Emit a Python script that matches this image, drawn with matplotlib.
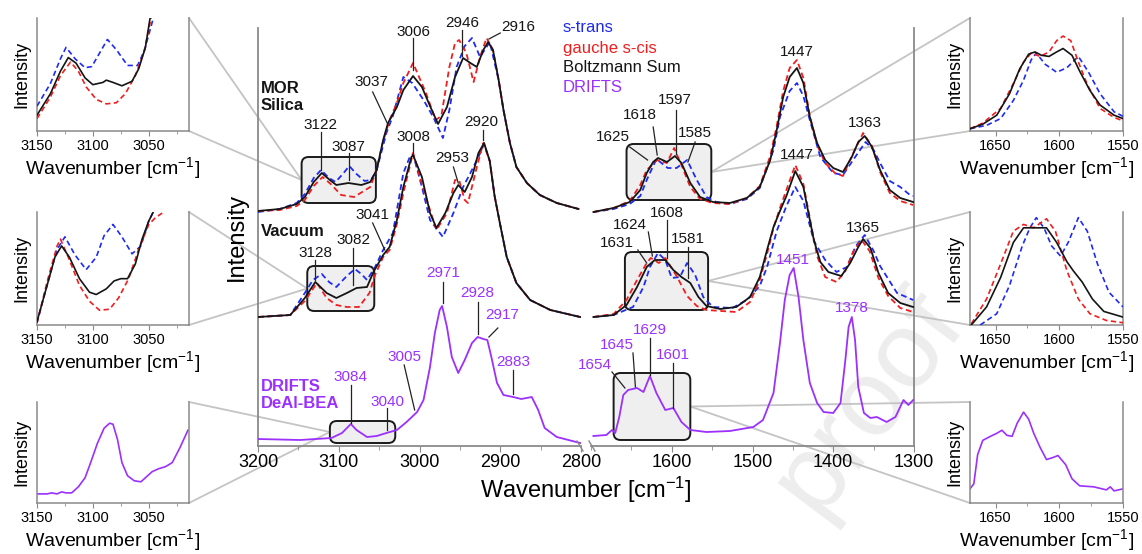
import matplotlib
matplotlib.use('Agg')
import matplotlib.pyplot as plt
from matplotlib.patches import FancyBboxPatch
from matplotlib.lines import Line2D
from matplotlib.transforms import IdentityTransform
from matplotlib.ticker import MultipleLocator

plt.rcParams['font.family'] = ['Liberation Sans', 'DejaVu Sans']
plt.rcParams['mathtext.fontset'] = 'custom'
plt.rcParams['mathtext.rm'] = 'Liberation Sans'
plt.rcParams['mathtext.it'] = 'Liberation Sans:italic'
plt.rcParams['mathtext.bf'] = 'Liberation Sans:bold'

# ---------------- DATA (stacked intensities, arbitrary units) ----------------
# C-H stretching region (3200-2800 cm-1)
mor_bz_hi_wn = [3200, 3173, 3152, 3142, 3131, 3121, 3111, 3103, 3088, 3072, 3061, 3053, 3045, 3039, 3028, 3020, 3008, 2997, 2987, 2977, 2966, 2956, 2946, 2937, 2929, 2921, 2915, 2909, 2902, 2896, 2888, 2880, 2867, 2851, 2830, 2803]
mor_bz_hi = [235, 237, 242, 249, 264, 273, 266, 261, 263, 261, 264, 276, 306, 323, 339, 356, 370, 359, 340, 322, 339, 369, 388, 383, 379, 396, 404, 396, 366, 336, 303, 279, 263, 251, 243, 237]
mor_tr_hi_wn = [3200, 3173, 3152, 3142, 3131, 3122, 3112, 3104, 3095, 3087, 3078, 3068, 3060, 3053, 3041, 3033, 3028, 3020, 3009, 2995, 2983, 2971, 2963, 2954, 2944, 2935, 2925, 2913, 2902, 2896, 2888, 2880, 2867, 2851, 2830, 2803]
mor_tr_hi = [234, 237, 243, 252, 268, 276, 268, 264, 272, 280, 272, 265, 266, 276, 313, 330, 345, 369, 363, 346, 329, 308, 336, 379, 400, 408, 389, 404, 366, 336, 303, 279, 263, 251, 243, 237]
mor_cis_hi_wn = [3200, 3173, 3152, 3142, 3131, 3120, 3110, 3097, 3081, 3061, 3054, 3045, 3037, 3028, 3020, 3008, 2992, 2980, 2973, 2963, 2956, 2951, 2942, 2933, 2925, 2917, 2909, 2902, 2896, 2888, 2880, 2867, 2851, 2830, 2803]
mor_cis_hi = [235, 236, 240, 246, 260, 269, 262, 251, 249, 259, 274, 305, 326, 343, 363, 383, 353, 326, 330, 379, 403, 406, 393, 364, 389, 408, 396, 366, 336, 303, 279, 263, 251, 243, 237]

vac_bz_hi_wn = [3200, 3160, 3142, 3129, 3115, 3103, 3090, 3078, 3065, 3057, 3045, 3037, 3028, 3020, 3010, 3008, 2997, 2987, 2979, 2968, 2958, 2952, 2944, 2935, 2927, 2920, 2913, 2907, 2900, 2892, 2880, 2863, 2838, 2801]
vac_bz_hi = [129, 131, 148, 164, 153, 148, 153, 158, 159, 174, 191, 199, 226, 259, 289, 291, 269, 233, 218, 233, 253, 261, 254, 269, 293, 303, 285, 250, 221, 189, 163, 146, 136, 129]
vac_tr_hi_wn = [3200, 3160, 3142, 3132, 3121, 3112, 3103, 3090, 3080, 3072, 3065, 3055, 3045, 3033, 3028, 3020, 3012, 3008, 2997, 2987, 2971, 2958, 2946, 2937, 2927, 2920, 2913, 2907, 2900, 2892, 2880, 2863, 2838, 2801]
vac_tr_hi = [129, 131, 153, 166, 172, 164, 159, 170, 177, 172, 166, 179, 196, 213, 236, 273, 289, 292, 259, 226, 209, 233, 259, 273, 289, 302, 285, 250, 221, 189, 163, 146, 136, 129]
vac_cis_hi_wn = [3200, 3160, 3142, 3127, 3115, 3103, 3090, 3075, 3062, 3055, 3045, 3037, 3028, 3020, 3008, 2995, 2979, 2966, 2956, 2951, 2944, 2940, 2929, 2921, 2913, 2907, 2900, 2892, 2880, 2863, 2838, 2801]
vac_cis_hi = [129, 131, 145, 163, 148, 141, 139, 139, 153, 171, 189, 196, 222, 253, 293, 256, 216, 233, 266, 266, 246, 243, 279, 303, 285, 250, 221, 189, 163, 146, 136, 129]

drifts_hi_wn = [3200, 3148, 3109, 3096, 3085, 3078, 3065, 3053, 3041, 3028, 3016, 3003, 2995, 2987, 2981, 2975, 2972, 2966, 2960, 2952, 2944, 2935, 2928, 2921, 2916, 2911, 2904, 2896, 2884, 2874, 2861, 2853, 2845, 2830, 2801]
drifts_hi = [7, 6, 8, 13, 22, 16, 9, 10, 13, 16, 24, 34, 46, 79, 113, 136, 140, 119, 89, 73, 86, 103, 109, 107, 106, 89, 63, 51, 49, 47, 49, 36, 18, 9, 3]

# fingerprint region (1700-1300 cm-1)
mor_bz_lo_wn = [1697, 1672, 1652, 1639, 1631, 1623, 1617, 1606, 1596, 1588, 1577, 1565, 1549, 1528, 1507, 1491, 1478, 1470, 1462, 1454, 1445, 1437, 1429, 1420, 1410, 1400, 1388, 1377, 1369, 1361, 1352, 1342, 1330, 1317, 1301]
mor_bz_lo = [234, 238, 244, 256, 273, 284, 288, 284, 290, 283, 263, 249, 244, 243, 248, 259, 286, 316, 349, 369, 378, 363, 329, 303, 286, 278, 274, 289, 304, 310, 299, 276, 256, 248, 244]
mor_tr_lo_wn = [1697, 1672, 1652, 1639, 1631, 1619, 1605, 1594, 1581, 1569, 1557, 1545, 1528, 1507, 1491, 1474, 1466, 1454, 1445, 1437, 1429, 1416, 1400, 1388, 1372, 1360, 1350, 1342, 1330, 1317, 1305, 1301]
mor_tr_lo = [234, 237, 242, 250, 266, 287, 278, 278, 286, 266, 249, 244, 242, 247, 258, 296, 329, 355, 363, 350, 326, 289, 273, 271, 290, 304, 296, 283, 265, 259, 251, 250]
mor_cis_lo_wn = [1697, 1672, 1652, 1639, 1631, 1618, 1606, 1597, 1588, 1577, 1565, 1549, 1528, 1507, 1491, 1478, 1470, 1462, 1454, 1445, 1437, 1429, 1420, 1410, 1398, 1388, 1377, 1363, 1352, 1342, 1330, 1317, 1301]
mor_cis_lo = [234, 238, 245, 261, 276, 286, 283, 298, 281, 259, 247, 243, 242, 248, 260, 290, 320, 355, 378, 386, 368, 330, 301, 283, 273, 270, 290, 313, 300, 274, 253, 245, 241]

vac_bz_lo_wn = [1697, 1672, 1656, 1643, 1631, 1621, 1608, 1598, 1588, 1577, 1567, 1557, 1540, 1520, 1503, 1491, 1482, 1474, 1466, 1458, 1447, 1437, 1429, 1424, 1416, 1406, 1390, 1379, 1369, 1363, 1354, 1344, 1332, 1317, 1301]
vac_bz_lo = [129, 131, 141, 159, 179, 186, 186, 176, 169, 163, 149, 140, 137, 139, 149, 169, 196, 219, 235, 250, 275, 259, 226, 206, 184, 174, 170, 183, 199, 207, 198, 173, 153, 143, 139]
vac_tr_lo_wn = [1697, 1672, 1648, 1635, 1627, 1617, 1608, 1600, 1590, 1581, 1571, 1561, 1549, 1525, 1507, 1491, 1482, 1470, 1458, 1447, 1437, 1424, 1410, 1396, 1383, 1372, 1361, 1350, 1342, 1321, 1301]
vac_tr_lo = [129, 131, 139, 159, 179, 193, 186, 168, 169, 183, 171, 149, 139, 138, 146, 160, 179, 215, 240, 259, 245, 205, 186, 174, 179, 200, 211, 195, 180, 153, 146]
vac_cis_lo_wn = [1697, 1672, 1656, 1643, 1631, 1626, 1616, 1608, 1594, 1581, 1569, 1557, 1520, 1503, 1491, 1482, 1474, 1466, 1458, 1447, 1437, 1429, 1420, 1410, 1396, 1385, 1375, 1365, 1355, 1344, 1332, 1317, 1301]
vac_cis_lo = [129, 132, 146, 166, 183, 188, 183, 188, 170, 150, 140, 136, 134, 144, 166, 192, 218, 238, 256, 281, 262, 228, 190, 169, 164, 175, 195, 206, 195, 168, 150, 138, 134]

drifts_lo_wn = [1697, 1681, 1674, 1670, 1665, 1660, 1654, 1643, 1635, 1627, 1619, 1608, 1598, 1588, 1577, 1557, 1528, 1499, 1487, 1474, 1466, 1460, 1454, 1449, 1443, 1437, 1429, 1420, 1412, 1400, 1391, 1385, 1381, 1377, 1373, 1369, 1362, 1354, 1346, 1334, 1323, 1313, 1307, 1301]
drifts_lo = [10, 11, 16, 13, 29, 51, 56, 58, 54, 70, 53, 36, 38, 24, 16, 14, 15, 19, 26, 53, 103, 146, 171, 178, 149, 106, 63, 43, 34, 33, 43, 86, 119, 129, 106, 59, 33, 28, 29, 24, 29, 46, 41, 46]

# zoomed insets (normalised intensity 0-100 inside each inset)
in1_bz_wn = [3150, 3138, 3129, 3122, 3115, 3107, 3100, 3091, 3088, 3082, 3074, 3065, 3059, 3053, 3049, 3047]
in1_bz = [14, 33, 53, 65, 60, 47, 41, 43, 45, 43, 40, 44, 55, 74, 99, 104]
in1_tr_wn = [3150, 3138, 3129, 3124, 3116, 3107, 3101, 3094, 3087, 3079, 3069, 3060, 3054, 3047, 3045]
in1_tr = [22, 42, 64, 74, 64, 56, 57, 69, 81, 72, 58, 58, 71, 96, 104]
in1_cis_wn = [3150, 3138, 3129, 3120, 3113, 3106, 3097, 3088, 3079, 3071, 3062, 3054, 3049, 3047]
in1_cis = [11, 30, 49, 61, 53, 39, 28, 24, 25, 33, 49, 71, 95, 104]

in2_bz_wn = [3150, 3141, 3134, 3128, 3121, 3112, 3103, 3097, 3088, 3081, 3075, 3069, 3062, 3056, 3050, 3046]
in2_bz = [3, 35, 60, 70, 60, 41, 29, 27, 32, 39, 41, 41, 54, 76, 92, 100]
in2_tr_wn = [3150, 3141, 3132, 3125, 3116, 3106, 3097, 3090, 3082, 3074, 3065, 3057, 3050, 3046]
in2_tr = [2, 35, 67, 78, 62, 49, 60, 79, 89, 78, 63, 70, 92, 100]
in2_cis_wn = [3150, 3141, 3132, 3129, 3122, 3112, 3103, 3094, 3085, 3077, 3068, 3059, 3050, 3044, 3038]
in2_cis = [2, 38, 70, 76, 60, 35, 21, 13, 14, 24, 41, 67, 89, 95, 99]

in3_wn = [3150, 3141, 3137, 3132, 3128, 3124, 3119, 3113, 3107, 3102, 3096, 3090, 3085, 3082, 3078, 3074, 3069, 3063, 3057, 3053, 3047, 3041, 3035, 3029, 3022, 3015]
in3 = [9, 9, 10, 9, 11, 10, 10, 16, 25, 40, 59, 74, 79, 78, 63, 40, 27, 22, 21, 25, 31, 34, 36, 40, 55, 72]

in4_bz_wn = [1670, 1660, 1649, 1639, 1631, 1624, 1619, 1614, 1608, 1602, 1597, 1590, 1584, 1576, 1568, 1557, 1550]
in4_bz = [2, 6, 14, 33, 55, 68, 70, 67, 66, 70, 73, 67, 53, 36, 23, 14, 11]
in4_tr_wn = [1670, 1657, 1646, 1636, 1628, 1622, 1618, 1611, 1602, 1594, 1585, 1577, 1568, 1557, 1550]
in4_tr = [2, 5, 11, 27, 45, 63, 69, 59, 52, 56, 66, 52, 33, 17, 13]
in4_cis_wn = [1670, 1660, 1646, 1636, 1628, 1622, 1615, 1608, 1602, 1597, 1591, 1585, 1578, 1568, 1557, 1550]
in4_cis = [2, 7, 20, 42, 61, 69, 66, 70, 80, 84, 80, 61, 41, 20, 12, 9]

in5_bz_wn = [1669, 1657, 1646, 1636, 1628, 1620, 1610, 1602, 1594, 1589, 1582, 1574, 1565, 1550]
in5_bz = [0, 16, 42, 73, 86, 86, 86, 73, 56, 48, 38, 23, 12, 7]
in5_tr_wn = [1662, 1649, 1639, 1629, 1623, 1618, 1612, 1606, 1599, 1593, 1585, 1578, 1570, 1561, 1550]
in5_tr = [0, 10, 35, 70, 86, 95, 86, 70, 61, 73, 95, 83, 54, 29, 16]
in5_cis_wn = [1669, 1657, 1646, 1636, 1628, 1620, 1610, 1603, 1594, 1585, 1576, 1563, 1550]
in5_cis = [1, 23, 54, 83, 89, 86, 94, 83, 48, 23, 10, 4, 2]

in6_wn = [1670, 1667, 1664, 1660, 1654, 1649, 1645, 1641, 1637, 1633, 1628, 1624, 1620, 1615, 1610, 1605, 1601, 1595, 1590, 1584, 1573, 1563, 1560, 1557, 1550]
in6 = [14, 19, 48, 62, 66, 69, 72, 67, 66, 79, 90, 83, 69, 55, 43, 45, 47, 38, 24, 17, 16, 13, 16, 12, 14]

# peak labels: (text, x, y, leader line or None)
lab_hi_black = [("3122", 3123, 321, (3122, 314, 3122, 276)), ("3087", 3088, 299, (3087, 293, 3087, 266)),
                ("3037", 3059, 364, (3058, 354, 3040, 323)), ("3006", 3008, 414, (3008, 408, 3008, 376)),
                ("2946", 2947, 423, (2947, 416, 2947, 390)), ("2916", 2878, 419, (2900, 413, 2914, 407)),
                ("3041", 3058, 231, (3058, 223, 3043, 196)), ("3008", 3008, 309, (3008, 303, 3008, 293)),
                ("2953", 2960, 288, (2958, 279, 2952, 263)), ("2920", 2923, 324, (2921, 316, 2921, 306)),
                ("3128", 3129, 193, (3129, 186, 3129, 166)), ("3082", 3082, 206, (3082, 198, 3082, 161))]
lab_hi_purple = [("2971", 2971, 173, (2971, 164, 2971, 143)), ("2928", 2929, 153, (2928, 144, 2928, 112)),
                 ("2917", 2897, 131, (2903, 118, 2914, 109)), ("2883", 2884, 84, (2884, 76, 2884, 52)),
                 ("3005", 3019, 89, (3019, 81, 3006, 36)), ("3084", 3085, 69, (3085, 61, 3085, 23)),
                 ("3040", 3040, 44, (3040, 38, 3040, 16))]
lab_lo_black = [("1447", 1445, 394, None), ("1363", 1361, 323, None),
                ("1625", 1673, 309, (1652, 299, 1630, 286)), ("1618", 1639, 331, (1623, 319, 1618, 291)),
                ("1597", 1596, 346, (1595, 336, 1595, 292)), ("1585", 1571, 313, (1571, 304, 1580, 284)),
                ("1447", 1445, 291, None), ("1365", 1363, 218, None),
                ("1624", 1652, 221, (1629, 214, 1624, 190)), ("1608", 1606, 233, (1606, 226, 1606, 188)),
                ("1631", 1668, 203, (1642, 196, 1631, 183)), ("1581", 1580, 207, (1580, 199, 1580, 168))]
lab_lo_purple = [("1451", 1450, 186, None), ("1378", 1377, 138, None),
                 ("1654", 1695, 81, (1674, 74, 1658, 58)), ("1645", 1668, 101, (1648, 93, 1645, 59)),
                 ("1629", 1627, 116, (1627, 108, 1627, 71)), ("1601", 1599, 91, (1599, 83, 1599, 38))]

legend_labels = ["s-trans", "gauche s-cis", "Boltzmann Sum", "DRIFTS"]

# ---------------- STYLE ----------------
BLUE = '#1f2bf2'
RED = '#f01e1e'
BLACK = '#151515'
PURPLE = '#9b30ff'
GREY = '#8a8a8a'
LINKC = '#c4c4c4'
DASH = (3.2, 2.0)

W, H = 1142, 554
fig = plt.figure(figsize=(W / 100, H / 100), dpi=100)


def rect(x0, y0, x1, y1):
    return [x0 / W, 1 - y1 / H, (x1 - x0) / W, (y1 - y0) / H]


# watermark
fig.text(868 / W, 1 - 402 / H, 'proof', rotation=53, fontsize=78, color='#ededed',
         ha='center', va='center', zorder=-5)

axL = fig.add_axes(rect(258, 28, 581, 446))
axR = fig.add_axes(rect(591, 28, 914, 446))
for ax in (axL, axR):
    ax.set_facecolor('none')
    ax.set_ylim(0, 418)
    ax.set_yticks([])
    ax.spines['top'].set_visible(False)
    for s in ax.spines.values():
        s.set_color(GREY)
        s.set_linewidth(1.3)
    ax.tick_params(axis='x', which='both', direction='out', color=GREY, labelsize=13, pad=2)
    ax.tick_params(axis='x', which='major', length=4)
    ax.tick_params(axis='x', which='minor', length=3)
axL.spines['right'].set_visible(False)
axR.spines['left'].set_visible(False)
axL.set_xlim(3200, 2800)
axR.set_xlim(1700, 1300)
axL.set_xticks([3200, 3100, 3000, 2900, 2800])
axR.set_xticks([1600, 1500, 1400, 1300])
axL.xaxis.set_minor_locator(MultipleLocator(50))
axR.xaxis.set_minor_locator(MultipleLocator(50))


def trio(ax, wtr, tr, wcis, cis, wbz, bz, lw=1.3):
    ax.plot(wtr, tr, color=BLUE, lw=lw, dashes=DASH, zorder=3)
    ax.plot(wcis, cis, color=RED, lw=lw, dashes=DASH, zorder=3)
    ax.plot(wbz, bz, color=BLACK, lw=lw, zorder=4)


trio(axL, mor_tr_hi_wn, mor_tr_hi, mor_cis_hi_wn, mor_cis_hi, mor_bz_hi_wn, mor_bz_hi)
trio(axL, vac_tr_hi_wn, vac_tr_hi, vac_cis_hi_wn, vac_cis_hi, vac_bz_hi_wn, vac_bz_hi)
axL.plot(drifts_hi_wn, drifts_hi, color=PURPLE, lw=1.3, zorder=4)
trio(axR, mor_tr_lo_wn, mor_tr_lo, mor_cis_lo_wn, mor_cis_lo, mor_bz_lo_wn, mor_bz_lo)
trio(axR, vac_tr_lo_wn, vac_tr_lo, vac_cis_lo_wn, vac_cis_lo, vac_bz_lo_wn, vac_bz_lo)
axR.plot(drifts_lo_wn, drifts_lo, color=PURPLE, lw=1.3, zorder=4)


def labels(ax, items, color):
    for t, x, y, ln in items:
        ax.text(x, y, t, ha='center', va='center', fontsize=11, color=color, zorder=6, clip_on=False)
        if ln is not None:
            ax.plot([ln[0], ln[2]], [ln[1], ln[3]], color='#222222', lw=0.9, zorder=5, clip_on=False)


labels(axL, lab_hi_black, BLACK)
labels(axL, lab_hi_purple, PURPLE)
labels(axR, lab_lo_black, BLACK)
labels(axR, lab_lo_purple, PURPLE)

axL.text(3197, 349, 'MOR\nSilica', ha='left', va='center', fontsize=12, fontweight='bold',
         color=BLACK, linespacing=1.15)
axL.text(3197, 214, 'Vacuum', ha='left', va='center', fontsize=12, fontweight='bold', color=BLACK)
axL.text(3197, 51, 'DRIFTS\nDeAl-BEA', ha='left', va='center', fontsize=12, fontweight='bold',
         color=PURPLE, linespacing=1.15)

for i, (t, c) in enumerate(zip(legend_labels, [BLUE, RED, BLACK, PURPLE])):
    fig.text(563 / W, 1 - (28 + 20 * i) / H, t, color=c, fontsize=12, ha='left', va='center')

fig.text(237 / W, 1 - 237 / H, 'Intensity', rotation=90, fontsize=17, ha='center', va='center')
fig.text(586 / W, 1 - 490 / H, 'Wavenumber [cm$^{-1}$]', fontsize=17, ha='center', va='center')

# break marks
for x0 in (577, 589):
    fig.add_artist(Line2D([x0, x0 + 6], [H - 441, H - 451], transform=IdentityTransform(),
                          color=GREY, lw=1.0))

# ---------------- insets ----------------
rows = [(18, 131), (212, 325), (402, 503)]
insL = [fig.add_axes(rect(37, t, 189, b)) for t, b in rows]
insR = [fig.add_axes(rect(970, t, 1123, b)) for t, b in rows]
for ax in insL + insR:
    ax.set_facecolor('none')
    ax.set_ylim(0, 100)
    ax.set_yticks([])
    ax.spines['top'].set_visible(False)
    for s in ax.spines.values():
        s.set_color(GREY)
        s.set_linewidth(1.1)
    ax.tick_params(axis='x', which='both', direction='out', color=GREY, labelsize=10.5, pad=2)
    ax.tick_params(axis='x', which='major', length=3.5)
    ax.tick_params(axis='x', which='minor', length=2.5)
    ax.xaxis.set_major_locator(MultipleLocator(50))
    ax.xaxis.set_minor_locator(MultipleLocator(25))
    ax.set_xlabel('Wavenumber [cm$^{-1}$]', fontsize=14, labelpad=2)
    ax.set_ylabel('Intensity', fontsize=13, labelpad=5)
for ax in insL:
    ax.set_xlim(3150, 3014)
for ax in insR:
    ax.set_xlim(1670, 1550)

trio(insL[0], in1_tr_wn, in1_tr, in1_cis_wn, in1_cis, in1_bz_wn, in1_bz, lw=1.2)
trio(insL[1], in2_tr_wn, in2_tr, in2_cis_wn, in2_cis, in2_bz_wn, in2_bz, lw=1.2)
insL[2].plot(in3_wn, in3, color=PURPLE, lw=1.2)
trio(insR[0], in4_tr_wn, in4_tr, in4_cis_wn, in4_cis, in4_bz_wn, in4_bz, lw=1.2)
trio(insR[1], in5_tr_wn, in5_tr, in5_cis_wn, in5_cis, in5_bz_wn, in5_bz, lw=1.2)
insR[2].plot(in6_wn, in6, color=PURPLE, lw=1.2)

# ---------------- zoom boxes + connectors ----------------
boxes_L = [(3146, 3054, 243, 289), (3139, 3056, 135, 180), (3111, 3030, 3, 25)]
boxes_R = [(1656, 1551, 246, 302), (1658, 1555, 136, 194), (1672, 1577, 6, 73)]


def draw_box(ax, wn0, wn1, v0, v1):
    p0 = ax.transData.transform((wn0, v0))
    p1 = ax.transData.transform((wn1, v1))
    x0, y0 = min(p0[0], p1[0]), min(p0[1], p1[1])
    w, h = abs(p1[0] - p0[0]), abs(p1[1] - p0[1])
    patch = FancyBboxPatch((x0, y0), w, h, boxstyle='round,pad=0,rounding_size=7',
                           transform=IdentityTransform(), facecolor='#efefef',
                           edgecolor='#1a1a1a', lw=1.4, zorder=1)
    ax.add_artist(patch)
    return (x0, y0 + h / 2), (x0 + w, y0 + h / 2)


for ax_in, bx in zip(insL, boxes_L):
    left_mid, _ = draw_box(axL, *bx)
    for corner in ((1, 1), (1, 0)):
        c = ax_in.transAxes.transform(corner)
        fig.add_artist(Line2D([c[0], left_mid[0]], [c[1], left_mid[1]], transform=IdentityTransform(),
                              color=LINKC, lw=1.3, zorder=-1))
for ax_in, bx in zip(insR, boxes_R):
    _, right_mid = draw_box(axR, *bx)
    for corner in ((0, 1), (0, 0)):
        c = ax_in.transAxes.transform(corner)
        fig.add_artist(Line2D([right_mid[0], c[0]], [right_mid[1], c[1]], transform=IdentityTransform(),
                              color=LINKC, lw=1.3, zorder=-1))

fig.savefig('out.png', dpi=100)
